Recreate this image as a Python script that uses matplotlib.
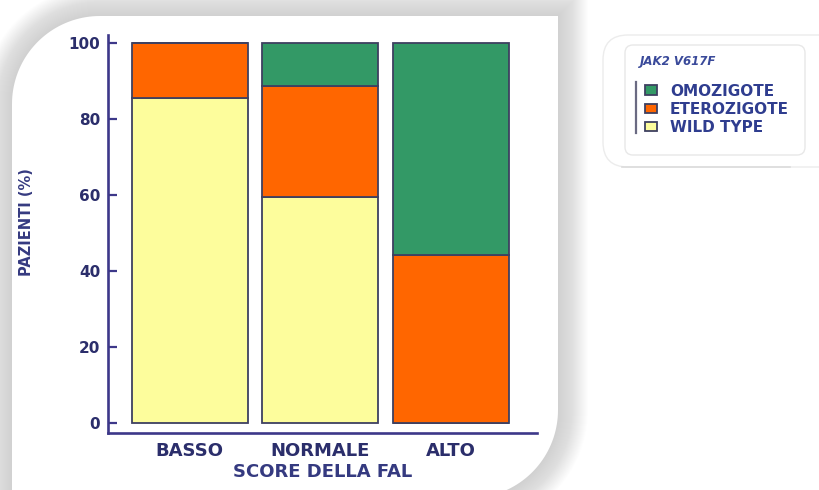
import numpy as np
import matplotlib
matplotlib.use("Agg")
import matplotlib.pyplot as plt
from matplotlib.path import Path
from matplotlib.patches import PathPatch, FancyBboxPatch
from matplotlib.lines import Line2D

# ---- data ----
categories = ['BASSO', 'NORMALE', 'ALTO']
wild_type = [85.5, 59.5, 0.0]
eterozigote = [14.5, 29.3, 44.3]
omozigote = [0.0, 11.2, 55.7]
series_labels = ['OMOZIGOTE', 'ETEROZIGOTE', 'WILD TYPE']
yticks = [0, 20, 40, 60, 80, 100]
legend_title = 'JAK2 V617F'
xlabel = 'SCORE DELLA FAL'
ylabel = 'PAZIENTI (%)'

C_WILD = '#FDFD9C'
C_ETERO = '#FF6600'
C_OMO = '#339966'
EDGE = '#3E4060'
SPINE = '#3D3889'
TICKC = '#2B2E6B'
LEGC = '#2F3D8F'

plt.rcParams['font.family'] = ['DejaVu Sans']
plt.rcParams['font.weight'] = 'bold'

W, H = 819, 490
fig = plt.figure(figsize=(W / 100, H / 100), dpi=100)
fig.patch.set_facecolor('white')

# ---- background card (pixel coordinates, y down) ----
bg = fig.add_axes([0, 0, 1, 1], zorder=-10)
bg.set_xlim(0, W)
bg.set_ylim(H, 0)
bg.axis('off')


def card_path(x0, y0, x1, y1, r_tl, r_br, n=40):
    pts = []
    cx, cy = x0 + r_tl, y0 + r_tl
    for t in np.linspace(np.pi, 1.5 * np.pi, n):
        pts.append((cx + r_tl * np.cos(t), cy + r_tl * np.sin(t)))
    pts.append((x1, y0))
    cx, cy = x1 - r_br, y1 - r_br
    for t in np.linspace(0, 0.5 * np.pi, n):
        pts.append((cx + r_br * np.cos(t), cy + r_br * np.sin(t)))
    pts.append((x0, y1))
    pts.append(pts[0])
    return Path(pts, closed=True)


L, T, R, B = 12, 16, 558, 498
for k in range(30, 0, -1):
    bg.add_patch(PathPatch(card_path(L - k, T - k, R + k, B + k, 88 + k, 88 + k),
                           facecolor='#8a8a8a', edgecolor='none', alpha=0.012))
bg.add_patch(PathPatch(card_path(L, T, R, B, 88, 88), facecolor='white', edgecolor='none'))

# legend card
bg.add_patch(FancyBboxPatch((603, 35), 240, 132, boxstyle='round,pad=0,rounding_size=25',
                            facecolor='white', edgecolor='#ececec', lw=1.0))
bg.add_line(Line2D([622, 790], [167, 167], color='#dcdcdc', lw=1.2))
bg.add_patch(FancyBboxPatch((625, 45), 180, 110, boxstyle='round,pad=0,rounding_size=8',
                            facecolor='white', edgecolor='#e8e8e8', lw=1.0))
bg.add_line(Line2D([636, 636], [81.7, 133], color='#6a6a82', lw=1.6))

# ---- main axes ----
ax = fig.add_axes([108 / W, (H - 432.7) / H, (537 - 108) / W, (432.7 - 35) / H])
ax.set_facecolor('none')
x = np.arange(len(categories))
wild = np.array(wild_type)
etero = np.array(eterozigote)
omo = np.array(omozigote)
bw = 0.888
b_wild = ax.bar(x, wild, bw, color=C_WILD, edgecolor=EDGE, linewidth=1.3)
b_etero = ax.bar(x, etero, bw, bottom=wild, color=C_ETERO, edgecolor=EDGE, linewidth=1.3)
b_omo = ax.bar(x, omo, bw, bottom=wild + etero, color=C_OMO, edgecolor=EDGE, linewidth=1.3)

ax.set_xlim(-0.625, 2.657)
ax.set_ylim(-2.6, 102.2)
ax.set_yticks(yticks)
ax.set_xticks(x)
ax.set_xticklabels(categories)
for s in ['top', 'right']:
    ax.spines[s].set_visible(False)
for s in ['left', 'bottom']:
    ax.spines[s].set_color(SPINE)
    ax.spines[s].set_linewidth(1.9)
ax.tick_params(axis='y', direction='in', length=6.5, width=1.6, color=SPINE,
               labelsize=11, labelcolor=TICKC, pad=5.5)
ax.tick_params(axis='x', length=0, labelsize=13, labelcolor=TICKC, pad=6.5)
ax.set_xlabel(xlabel, fontsize=13, color='#353A80', fontweight='bold', labelpad=2)
ax.set_ylabel(ylabel, fontsize=10.5, color='#353A80', fontweight='bold')
ax.yaxis.set_label_coords(-0.1725, 0.53)

# ---- legend ----
fig.legend([b_omo, b_etero, b_wild], series_labels, loc='upper left',
           bbox_to_anchor=(645 / W, 1 - 83.5 / H), bbox_transform=fig.transFigure,
           frameon=False, borderpad=0, borderaxespad=0, handlelength=0.78,
           handleheight=0.55, handletextpad=0.85, labelspacing=0.22,
           prop={'size': 11, 'weight': 'bold'}, labelcolor=LEGC)
fig.text(640 / W, 1 - 61.7 / H, legend_title, fontsize=8.5, fontweight='bold',
         fontstyle='italic', color='#3A4A9A', va='center', ha='left')

fig.savefig('out.png', dpi=100)
